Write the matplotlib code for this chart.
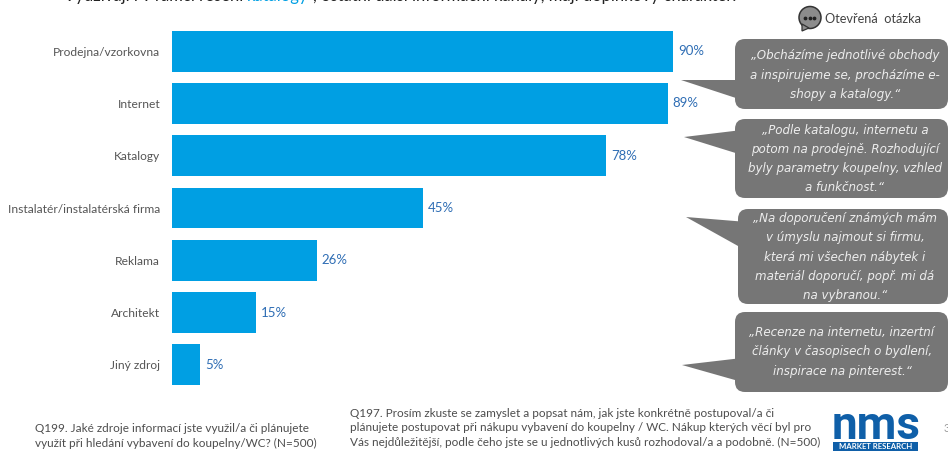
import matplotlib
matplotlib.use("Agg")
import matplotlib.pyplot as plt
from matplotlib.patches import FancyBboxPatch, Polygon, Circle, Rectangle

sources = ["Prodejna/vzorkovna", "Internet", "Katalogy", "Instalatér/instalatérská firma",
           "Reklama", "Architekt", "Jiný zdroj"]
shares = [90, 89, 78, 45, 26, 15, 5]

quotes = [
    "„Obcházíme jednotlivé obchody\na inspirujeme se, procházíme e-\nshopy a katalogy.“",
    "„Podle katalogu, internetu a\npotom na prodejně. Rozhodující\nbyly parametry koupelny, vzhled\na funkčnost.“",
    "„Na doporučení známých mám\nv úmyslu najmout si firmu,\nkterá mi všechen nábytek i\nmateriál doporučí, popř. mi dá\nna vybranou.“",
    "„Recenze na internetu, inzertní\nčlánky v časopisech o bydlení,\ninspirace na pinterest.“",
]
note_left = "Q199. Jaké zdroje informací jste využil/a či plánujete\nvyužít při hledání vybavení do koupelny/WC? (N=500)"
note_right = ("Q197. Prosím zkuste se zamyslet a popsat nám, jak jste konkrétně postupoval/a či\n"
              "plánujete postupovat při nákupu vybavení do koupelny / WC. Nákup kterých věcí byl pro\n"
              "Vás nejdůležitější, podle čeho jste se u jednotlivých kusů rozhodoval/a a podobně. (N=500)")
headline_start = "Využívají i v rámci řešení"
headline_accent = "katalogy"
headline_end = ", ostatní další informační kanály, mají doplňkový charakter."

W, H = 948, 451
BLUE = "#009FE3"
GREY = "#767676"
NAVY = "#0F5FA8"
plt.rcParams["font.family"] = ["Lato", "DejaVu Sans"]

fig = plt.figure(figsize=(W / 100, H / 100), dpi=100, facecolor="white")

# Horizontal bars: left edge at x=172 px, 100 % spans 557 px
ax = fig.add_axes([172 / W, 1 - 391 / H, 557 / W, 366 / H])
positions = range(len(sources))
ax.barh(list(positions), shares, height=0.78, color=BLUE)
ax.set_xlim(0, 100)
ax.set_ylim(6.5, -0.5)
ax.set_yticks(list(positions), sources, fontsize=8.65, color="#555555")
ax.tick_params(axis="y", length=0, pad=8.5)
ax.set_xticks([])
for side in ax.spines.values():
    side.set_visible(False)
ax.patch.set_alpha(0)
for pos, val in zip(positions, shares):
    ax.text(val + 0.9, pos, f"{val}%", va="center", ha="left", fontsize=9.5, color="#2E6DB4")

# Overlay in pixel coordinates for callouts, notes and logo
ov = fig.add_axes([0, 0, 1, 1], facecolor="none")
ov.set_xlim(0, W)
ov.set_ylim(H, 0)
ov.axis("off")

boxes = [(735, 39, 213, 70), (735, 119, 213, 79), (738, 209, 210, 95), (735, 312, 213, 80)]
tails = [
    [(681, 80), (742, 80), (742, 100)],
    [(684, 137), (742, 130), (742, 155)],
    [(686, 217), (747, 222), (747, 251)],
    [(682, 365), (742, 358), (742, 382)],
]
centers = [(845, 75), (845, 159), (845, 257), (842, 352)]
for (x, y, w, h), tail, (cx, cy), quote in zip(boxes, tails, centers, quotes):
    ov.add_patch(FancyBboxPatch((x + 10, y + 10), w - 20, h - 20,
                                boxstyle="round,pad=10,rounding_size=10",
                                fc=GREY, ec="none", mutation_aspect=1))
    ov.add_patch(Polygon(tail, closed=True, fc=GREY, ec="none"))
    ov.text(cx, cy, quote, ha="center", va="center", color="#EDEDED", fontsize=8.55,
            style="italic", linespacing=1.62, family="DejaVu Sans")

# Open-question icon and caption
ov.add_patch(Circle((810, 17.5), 11, fc="#8C8C8C", ec="#333333", lw=1.1))
ov.add_patch(Polygon([(802, 24), (802, 31), (809, 28)], closed=True, fc="#8C8C8C", ec="#333333", lw=0.9))
ov.scatter([805.5, 810, 814.5], [18, 18, 18], s=3, color="#222222", zorder=3)
ov.text(825, 19, "Otevřená  otázka", ha="left", va="center", fontsize=9.2, color="#444444")

# Source questions
ov.text(35, 436, note_left, ha="left", va="center", fontsize=8.5, color="#4D4D4D", linespacing=1.38)
ov.text(350, 428, note_right, ha="left", va="center", fontsize=8.5, color="#4D4D4D", linespacing=1.38)

# Headline running off the top edge, with the accent word in blue
ov.text(243, 1.5, headline_start, ha="right", va="baseline", fontsize=12, color="#222222")
ov.text(247, 1.5, headline_accent, ha="left", va="baseline", fontsize=12, color=BLUE)
ov.text(313, 1.5, headline_end, ha="left", va="baseline", fontsize=12, color="#222222")

# Logo
ov.text(876, 439, "nms", ha="center", va="baseline", fontsize=33, fontweight="bold",
        color=NAVY, family="Roboto")
ov.add_patch(Rectangle((833, 442), 85, 9, fc=NAVY, ec="none"))
ov.text(875.5, 446.5, "MARKET RESEARCH", ha="center", va="center", fontsize=5.6,
        fontweight="bold", color="white")
ov.text(944, 428, "3", ha="left", va="center", fontsize=8, color="#999999")

fig.savefig("out.png", dpi=100)
